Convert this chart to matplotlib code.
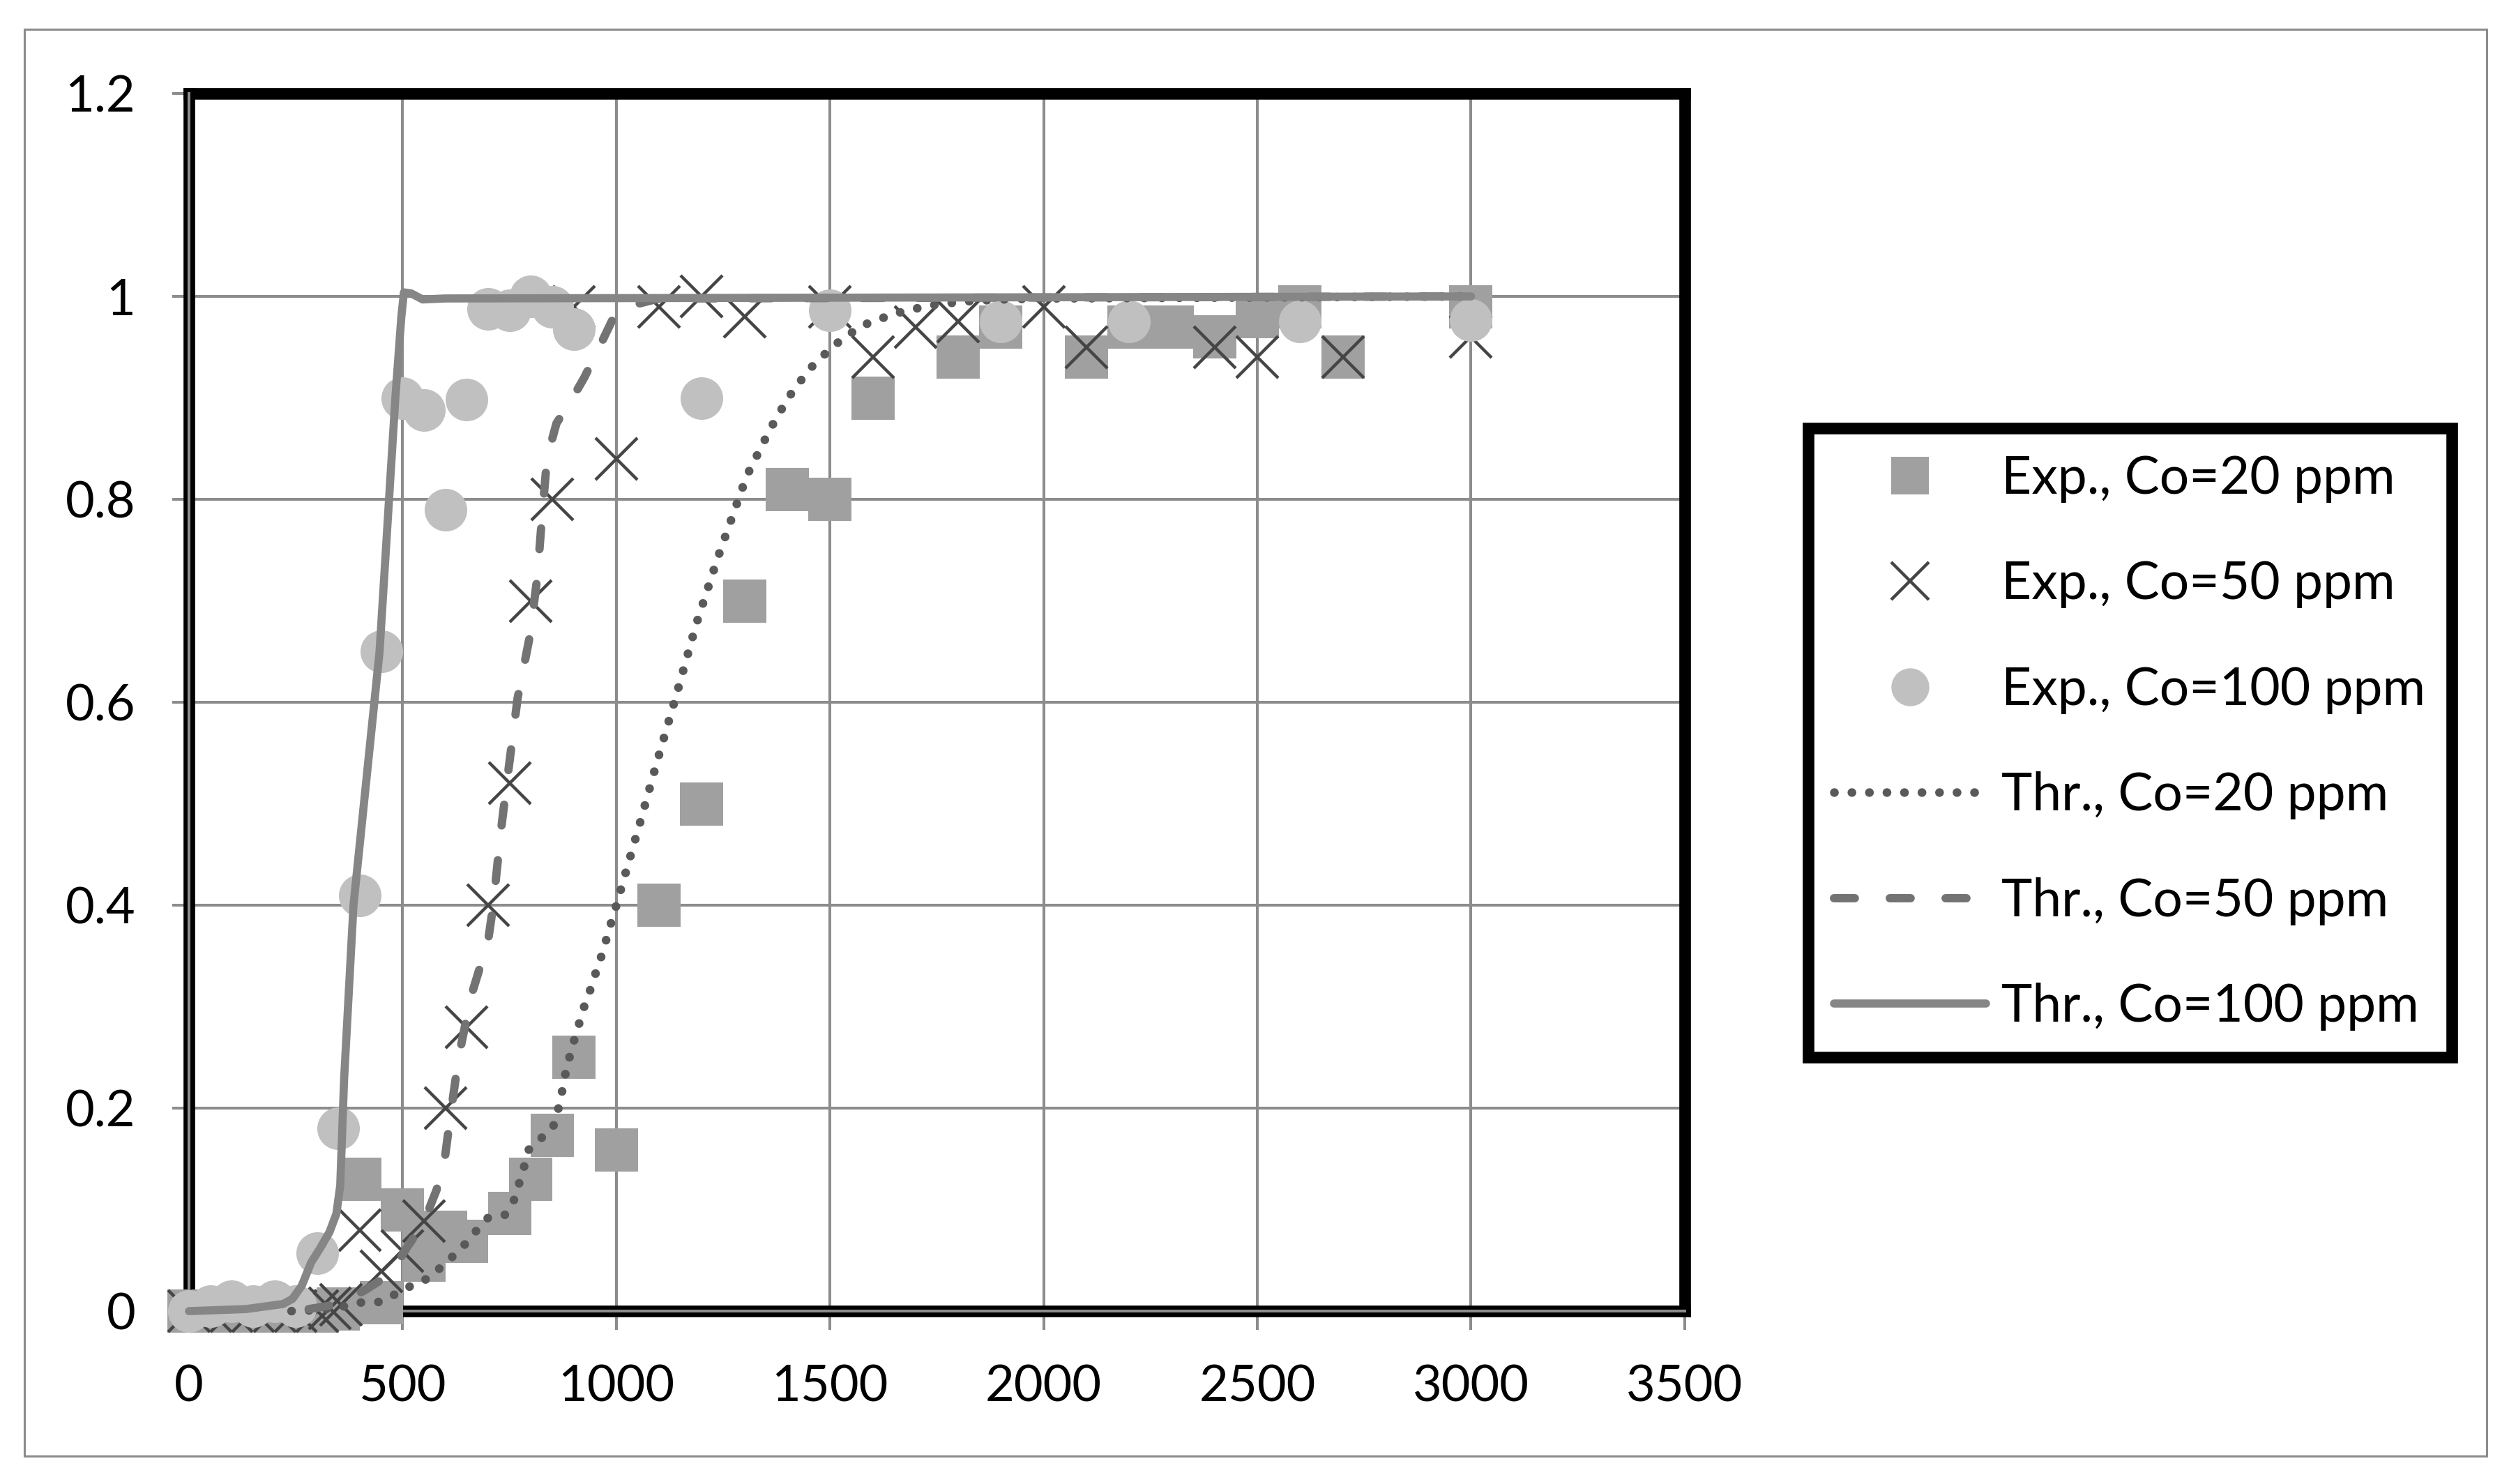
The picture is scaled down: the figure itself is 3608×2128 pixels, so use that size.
import numpy as np
import matplotlib
matplotlib.use("Agg")
import matplotlib.pyplot as plt
from matplotlib.patches import Rectangle

plt.rcParams['font.family'] = ['Lato', 'DejaVu Sans']

# experimental points, Co = 20 ppm
exp20_x = [0, 50, 100, 150, 200, 250, 300, 350, 400, 450, 500, 550, 550, 600, 650, 750,
           800, 850, 900, 1000, 1100, 1200, 1300, 1400, 1500, 1600, 1800, 1900, 2100,
           2200, 2300, 2400, 2500, 2600, 2700, 3000]
exp20_y = [0, 0, 0, 0, 0, 0, 0, 0.002, 0.13, 0.008, 0.10, 0.05, 0.078, 0.078, 0.069, 0.096,
           0.13, 0.173, 0.25, 0.159, 0.40, 0.50, 0.70, 0.81, 0.80, 0.90, 0.94, 0.97, 0.94,
           0.97, 0.97, 0.96, 0.98, 0.99, 0.94, 0.99]

# experimental points, Co = 50 ppm
exp50_x = [0, 50, 100, 150, 200, 250, 300, 330, 355, 400, 450, 500, 550, 600, 650, 700,
           750, 800, 850, 900, 1000, 1100, 1200, 1300, 1500, 1600, 1700, 1800, 2000,
           2100, 2400, 2500, 2700, 3000]
exp50_y = [0, 0, 0, 0, 0, 0, 0, 0.003, 0.006, 0.08, 0.039, 0.059, 0.089, 0.20, 0.28, 0.40,
           0.52, 0.70, 0.80, 0.99, 0.84, 0.99, 1.0, 0.98, 0.99, 0.94, 0.97, 0.975, 0.99,
           0.95, 0.95, 0.94, 0.94, 0.96]

# experimental points, Co = 100 ppm
exp100_x = [0, 50, 100, 150, 200, 250, 300, 350, 400, 450, 500, 550, 600, 650, 700, 750,
            800, 850, 900, 1200, 1500, 1900, 2200, 2600, 3000]
exp100_y = [0, 0.005, 0.01, 0.005, 0.01, 0.005, 0.057, 0.18, 0.41, 0.65, 0.90, 0.888, 0.79,
            0.898, 0.988, 0.986, 1.0, 0.99, 0.968, 0.90, 0.986, 0.975, 0.975, 0.975, 0.977]

# theoretical curves
thr20_x = [240, 300, 367, 408, 449, 484, 520, 558, 589, 620, 646, 672, 700, 740, 760, 772,
           784, 795, 823, 851, 863, 872, 880, 889, 900, 912, 923, 937, 950, 963, 975, 986,
           1000, 1054, 1097, 1143, 1187, 1237, 1305, 1361, 1402, 1451, 1507, 1573, 1651,
           1731, 1812, 1900, 2000, 3000]
thr20_y = [0.0, 0.001, 0.005, 0.009, 0.009, 0.017, 0.025, 0.032, 0.043, 0.055, 0.066, 0.079,
           0.092, 0.095, 0.109, 0.125, 0.142, 0.159, 0.17, 0.18, 0.197, 0.214, 0.232, 0.248,
           0.265, 0.282, 0.298, 0.314, 0.331, 0.347, 0.364, 0.38, 0.40, 0.479, 0.544, 0.611,
           0.677, 0.742, 0.823, 0.87, 0.90, 0.928, 0.951, 0.971, 0.983, 0.991, 0.995, 0.997,
           0.998, 1.0]

thr50_x = [280, 353, 413, 473, 509, 549, 579, 597, 611, 631, 660, 700, 712, 729, 746, 769,
           798, 815, 826, 838, 860, 895, 925, 958, 1000, 1044, 1100, 3000]
thr50_y = [0.002, 0.007, 0.021, 0.037, 0.062, 0.087, 0.119, 0.145, 0.19, 0.25, 0.31, 0.365,
           0.40, 0.47, 0.528, 0.604, 0.666, 0.723, 0.782, 0.841, 0.875, 0.898, 0.92, 0.948,
           0.985, 0.992, 0.998, 1.0]

thr100_x = [0, 133, 220, 242, 264, 286, 307, 329, 345, 354, 363, 374, 385, 446, 483, 497,
            503, 520, 547, 600, 3000]
thr100_y = [0, 0.002, 0.007, 0.012, 0.025, 0.048, 0.062, 0.078, 0.096, 0.124, 0.228, 0.314,
            0.40, 0.65, 0.90, 0.98, 1.004, 1.003, 0.997, 0.998, 1.0]

labels = ['Exp., Co=20 ppm', 'Exp., Co=50 ppm', 'Exp., Co=100 ppm',
          'Thr., Co=20 ppm', 'Thr., Co=50 ppm', 'Thr., Co=100 ppm']

grid_c = '#8c8c8c'

fig = plt.figure(figsize=(18.04, 10.64), dpi=200)
ax = fig.add_axes([0.0751, 0.1165, 0.5945, 0.8205])

ax.plot(exp20_x, exp20_y, ls='none', marker='s', ms=22, mew=0, color='#a0a0a0',
        zorder=3, clip_on=False, label=labels[0])
ax.plot(exp50_x, exp50_y, ls='none', marker='x', ms=21.5, mew=1.6, color='#454545',
        zorder=3.1, clip_on=False, label=labels[1])
ax.plot(exp100_x, exp100_y, ls='none', marker='o', ms=22, mew=0, color='#c0c0c0',
        zorder=3.2, clip_on=False, label=labels[2])
ax.plot(thr20_x, thr20_y, ls=(0, (0.01, 2.0)), lw=4.5, color='#595959',
        dash_capstyle='round', zorder=3.3, clip_on=False, label=labels[3])
ax.plot(thr50_x, thr50_y, ls=(0, (2.5, 4.2)), lw=4.3, color='#737373',
        dash_capstyle='round', zorder=3.4, clip_on=False, label=labels[4])
ax.plot(thr100_x, thr100_y, ls='-', lw=4.2, color='#868686',
        solid_capstyle='round', zorder=3.5, clip_on=False, label=labels[5])

ax.set_xlim(0, 3500)
ax.set_ylim(0, 1.2)
ax.set_xticks(np.arange(0, 3501, 500))
ax.set_yticks([0, 0.2, 0.4, 0.6, 0.8, 1.0, 1.2])
ax.set_yticklabels(['0', '0.2', '0.4', '0.6', '0.8', '1', '1.2'])
ax.grid(True, color=grid_c, lw=1.45, zorder=0.5)
ax.set_axisbelow(True)

ax.tick_params(axis='y', direction='out', length=8.6, width=1.45, color=grid_c,
               labelsize=26, pad=19)
ax.tick_params(axis='x', direction='out', length=9.6, width=1.45, color=grid_c,
               labelsize=26, pad=18)

for s in ax.spines.values():
    s.set_color('black')
    s.set_linewidth(6)
# thin grey axis lines sitting on the black frame
ax.axhline(0, color=grid_c, lw=1.45, zorder=2.6, clip_on=False)
ax.axvline(0, color=grid_c, lw=1.45, zorder=2.6, clip_on=False)

leg = ax.legend(loc='center', bbox_to_anchor=(0.8466, 0.4995), bbox_transform=fig.transFigure,
                fontsize=27, numpoints=1, markerscale=0.89, handlelength=2.9,
                handletextpad=0.3, labelspacing=1.10, borderpad=0.5, fancybox=False,
                framealpha=1, edgecolor='black')
leg.get_frame().set_linewidth(6)

fig.patches.append(Rectangle((0.0097, 0.0188), 0.9787, 0.9615, transform=fig.transFigure,
                             fill=False, edgecolor=grid_c, lw=1.1))

fig.savefig('out.png', dpi=200)
